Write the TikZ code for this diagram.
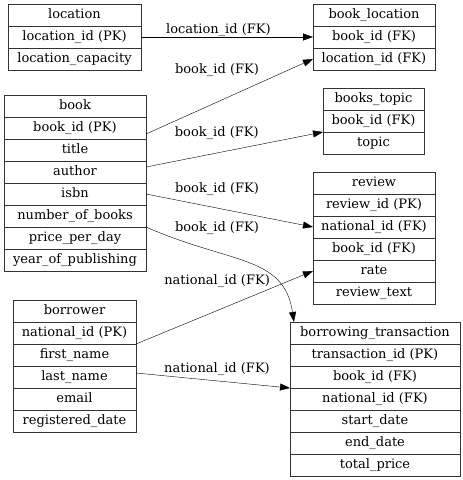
\documentclass[tikz,border=0pt]{standalone}
\usepackage{fontspec}
\setmainfont{DejaVu Serif}
\usetikzlibrary{arrows.meta,positioning}

\begin{document}
\begin{tikzpicture}[
  x=1pt, y=-1pt,
  field/.style={draw=black!80, minimum height=22pt, inner sep=0pt, outer sep=0pt,
                text height=9.5pt, text depth=3pt, font=\fontsize{13}{15}\selectfont},
  loctbl/.style={field, minimum width=133pt},
  bltbl/.style={field, minimum width=122pt},
  tptbl/.style={field, minimum width=101pt},
  booktbl/.style={field, minimum width=142pt},
  rvtbl/.style={field, minimum width=122pt},
  brtbl/.style={field, minimum width=123pt},
  trtbl/.style={field, minimum width=170pt},
  fk/.style={-{Triangle[length=10pt,width=7pt]}, draw=black},
  fklabel/.style={font=\fontsize{13}{15}\selectfont, inner sep=0pt},
]
  \useasboundingbox (0,0) rectangle (463,480);

  % location ----------------------------------------------------------------
  \node[loctbl] (loc1) at (74.5,15) {location};
  \node[loctbl, below=0pt of loc1] (loc2) {location\_id (PK)};
  \node[loctbl, below=0pt of loc2] (loc3) {location\_capacity};

  % book_location -----------------------------------------------------------
  \node[bltbl] (bl1) at (374,15) {book\_location};
  \node[bltbl, below=0pt of bl1] (bl2) {book\_id (FK)};
  \node[bltbl, below=0pt of bl2] (bl3) {location\_id (FK)};

  % books_topic -------------------------------------------------------------
  \node[tptbl] (tp1) at (373.5,99) {books\_topic};
  \node[tptbl, below=0pt of tp1] (tp2) {book\_id (FK)};
  \node[tptbl, below=0pt of tp2] (tp3) {topic};

  % book --------------------------------------------------------------------
  \node[booktbl] (bk1) at (75,106) {book};
  \node[booktbl, below=0pt of bk1] (bk2) {book\_id (PK)};
  \node[booktbl, below=0pt of bk2] (bk3) {title};
  \node[booktbl, below=0pt of bk3] (bk4) {author};
  \node[booktbl, below=0pt of bk4] (bk5) {isbn};
  \node[booktbl, below=0pt of bk5] (bk6) {number\_of\_books};
  \node[booktbl, below=0pt of bk6] (bk7) {price\_per\_day};
  \node[booktbl, below=0pt of bk7] (bk8) {year\_of\_publishing};

  % review ------------------------------------------------------------------
  \node[rvtbl] (rv1) at (374,183) {review};
  \node[rvtbl, below=0pt of rv1] (rv2) {review\_id (PK)};
  \node[rvtbl, below=0pt of rv2] (rv3) {national\_id (FK)};
  \node[rvtbl, below=0pt of rv3] (rv4) {book\_id (FK)};
  \node[rvtbl, below=0pt of rv4] (rv5) {rate};
  \node[rvtbl, below=0pt of rv5] (rv6) {review\_text};

  % borrower ----------------------------------------------------------------
  \node[brtbl] (br1) at (74.5,311) {borrower};
  \node[brtbl, below=0pt of br1] (br2) {national\_id (PK)};
  \node[brtbl, below=0pt of br2] (br3) {first\_name};
  \node[brtbl, below=0pt of br3] (br4) {last\_name};
  \node[brtbl, below=0pt of br4] (br5) {email};
  \node[brtbl, below=0pt of br5] (br6) {registered\_date};

  % borrowing_transaction ---------------------------------------------------
  \node[trtbl] (tr1) at (375,333) {borrowing\_transaction};
  \node[trtbl, below=0pt of tr1] (tr2) {transaction\_id (PK)};
  \node[trtbl, below=0pt of tr2] (tr3) {book\_id (FK)};
  \node[trtbl, below=0pt of tr3] (tr4) {national\_id (FK)};
  \node[trtbl, below=0pt of tr4] (tr5) {start\_date};
  \node[trtbl, below=0pt of tr5] (tr6) {end\_date};
  \node[trtbl, below=0pt of tr6] (tr7) {total\_price};

  % foreign keys ------------------------------------------------------------
  \draw[fk] (loc2.east) -- node[fklabel, pos=.45, yshift=7pt] {location\_id (FK)} (bl2.west);
  \draw[fk] ([yshift=-6pt]bk2.east) -- node[fklabel, pos=.425, yshift=32pt] {book\_id (FK)} (bl3.west);
  \draw[fk] ([yshift=5pt]bk4.east) -- node[fklabel, pos=.4, yshift=20pt] {book\_id (FK)} (tp2.south west);
  \draw[fk] (bk5.east) -- node[fklabel, pos=.425, yshift=19pt] {book\_id (FK)} (rv3.west);
  \draw[fk] (bk7.north east) .. controls +(84,37) and +(-10,-67) ..
    node[fklabel, pos=.32, yshift=24pt] {book\_id (FK)} ([xshift=4pt]tr1.north west);
  \draw[fk] (br2.south east) -- node[fklabel, pos=.458, yshift=29pt] {national\_id (FK)} (rv5.west);
  \draw[fk] ([yshift=4pt]br4.east) -- node[fklabel, pos=.526, yshift=12pt] {national\_id (FK)} (tr4.north west);
\end{tikzpicture}
\end{document}
